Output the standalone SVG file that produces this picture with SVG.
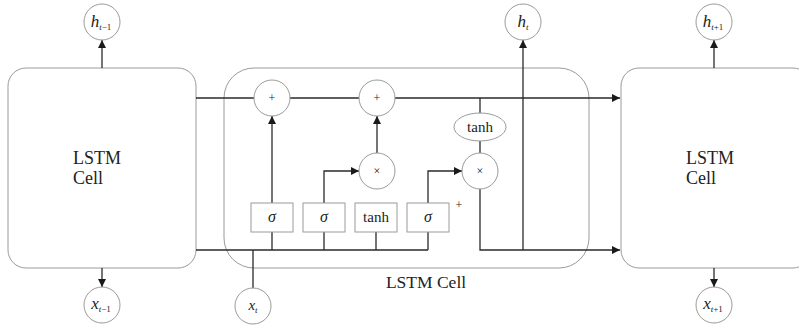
<svg xmlns="http://www.w3.org/2000/svg" width="799" height="328" viewBox="0 0 799 328">
<defs>
<marker id="arr" viewBox="0 0 10 10" refX="10" refY="5" markerWidth="8" markerHeight="8" markerUnits="userSpaceOnUse" orient="auto">
<path d="M0,0 L10,5 L0,10 z" fill="#1a1a1a"/>
</marker>
<style>
.cell{fill:#fff;stroke:#9a9a9a;stroke-width:1}
.node{fill:#fff;stroke:#9a9a9a;stroke-width:1}
.ln{fill:none;stroke:#2a2a2a;stroke-width:1.3}
.ar{fill:none;stroke:#2a2a2a;stroke-width:1.3;marker-end:url(#arr)}
text{font-family:'Liberation Serif','DejaVu Serif',serif;fill:#222}
.lbl{font-size:18px}
.it{font-style:italic}
.op{font-size:12px;text-anchor:middle}
</style>
</defs>
<g id="cells" font-family="Liberation Serif, serif">
<g id="cell-left"><rect class="cell" x="8" y="68" width="188" height="200" rx="18"/>
<text class="lbl" x="73" y="164">LSTM</text><text class="lbl" x="73" y="184">Cell</text></g>
<g id="cell-mid"><rect class="cell" x="224" y="68" width="365" height="200" rx="30"/>
<text x="426" y="288" font-size="17.5" text-anchor="middle">LSTM Cell</text></g>
<g id="cell-right"><rect class="cell" x="621" y="68" width="190" height="200" rx="18"/>
<text class="lbl" x="686" y="164">LSTM</text><text class="lbl" x="686" y="184">Cell</text></g>
</g>
<g id="connectors">
<path class="ar" d="M196 98 H620"/>
<path class="ln" d="M480 98 V113 M480 141 V153"/>
<path class="ar" d="M272 203 V116"/>
<path class="ar" d="M377 153 V116"/>
<path class="ar" d="M324 203 V171 H359"/>
<path class="ar" d="M428 203 V171 H462"/>
<path class="ln" d="M196 250 H428 M272 250 V232 M324 250 V232 M376 250 V232 M428 250 V232 M253 250 V288"/>
<path class="ar" d="M480 189 V250 H620"/>
<path class="ar" d="M523 250 V40"/>
<path class="ar" d="M102 68 V40"/>
<path class="ar" d="M102 268 V287"/>
<path class="ar" d="M714 68 V40"/>
<path class="ar" d="M714 268 V287"/>
</g>
<g id="plus1"><circle class="node" cx="272" cy="98" r="18"/><text class="op" x="272" y="102">+</text></g>
<g id="plus2"><circle class="node" cx="377" cy="98" r="18"/><text class="op" x="377" y="102">+</text></g>
<g id="tanh-out"><ellipse class="node" cx="480" cy="127" rx="26" ry="14"/><text x="480" y="132" font-size="15" text-anchor="middle">tanh</text></g>
<g id="mul1"><circle class="node" cx="377" cy="171" r="18"/><text class="op" x="377" y="175" font-size="11">×</text></g>
<g id="mul2"><circle class="node" cx="480" cy="171" r="18"/><text class="op" x="480" y="175" font-size="11">×</text></g>
<g id="gate1"><rect class="node" x="251" y="203" width="42" height="29"/><text class="it" x="272" y="222" font-size="16" text-anchor="middle">σ</text></g>
<g id="gate2"><rect class="node" x="303" y="203" width="42" height="29"/><text class="it" x="324" y="222" font-size="16" text-anchor="middle">σ</text></g>
<g id="gate3"><rect class="node" x="355" y="203" width="42" height="29"/><text x="376" y="222" font-size="15" text-anchor="middle">tanh</text></g>
<g id="gate4"><rect class="node" x="407" y="203" width="42" height="29"/><text class="it" x="428" y="222" font-size="16" text-anchor="middle">σ</text></g>
<text x="459" y="209" font-size="12" text-anchor="middle">+</text>
<g id="h-prev"><circle class="node" cx="102" cy="22" r="18"/><text x="101" y="27" text-anchor="middle"><tspan class="it" font-size="17">h</tspan><tspan class="it" font-size="9" dy="3">t</tspan><tspan font-size="9">−1</tspan></text></g>
<g id="h-cur"><circle class="node" cx="523" cy="22" r="18"/><text x="523" y="27" text-anchor="middle"><tspan class="it" font-size="17">h</tspan><tspan class="it" font-size="9" dy="3">t</tspan></text></g>
<g id="h-next"><circle class="node" cx="714" cy="22" r="18"/><text x="713" y="27" text-anchor="middle"><tspan class="it" font-size="17">h</tspan><tspan class="it" font-size="9" dy="3">t</tspan><tspan font-size="9">+1</tspan></text></g>
<g id="x-prev"><circle class="node" cx="102" cy="305" r="18"/><text x="101" y="309" text-anchor="middle"><tspan class="it" font-size="17">x</tspan><tspan class="it" font-size="9" dy="3">t</tspan><tspan font-size="9">−1</tspan></text></g>
<g id="x-cur"><circle class="node" cx="253" cy="306" r="18"/><text x="253" y="310" text-anchor="middle"><tspan class="it" font-size="15">x</tspan><tspan class="it" font-size="9" dy="3">t</tspan></text></g>
<g id="x-next"><circle class="node" cx="714" cy="305" r="18"/><text x="713" y="309" text-anchor="middle"><tspan class="it" font-size="17">x</tspan><tspan class="it" font-size="9" dy="3">t</tspan><tspan font-size="9">+1</tspan></text></g>
</svg>
